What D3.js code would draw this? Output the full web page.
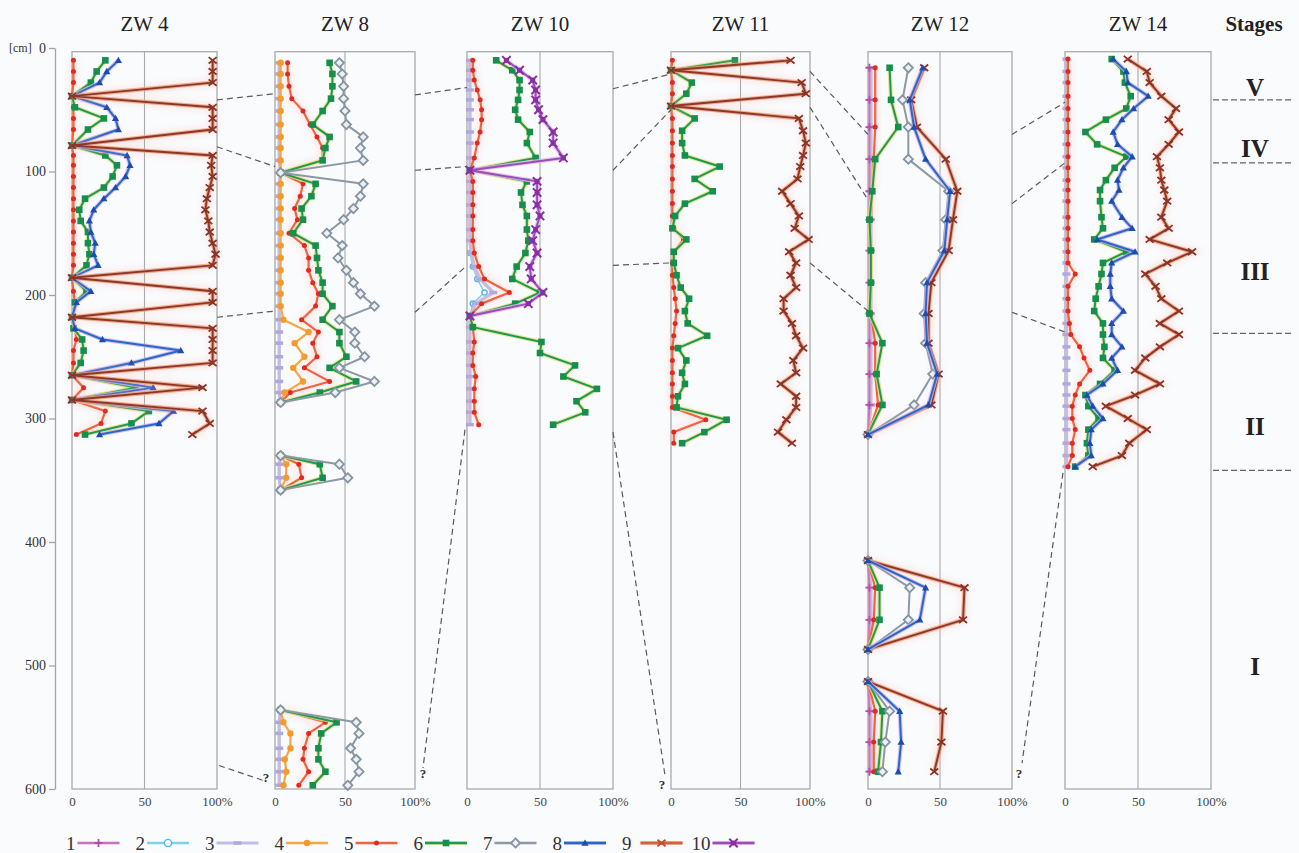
<!DOCTYPE html>
<html><head><meta charset="utf-8">
<script src="https://cdn.jsdelivr.net/npm/d3@7"></script>
<style>
body{margin:0;background:#fafbfd;}
svg{display:block;font-family:"Liberation Serif","Times New Roman",serif;}
</style></head><body>
<svg id="chart" width="1299" height="853"></svg>
<script>
// ---- labels and ticks ----
const panelNames = ["ZW 4", "ZW 8", "ZW 10", "ZW 11", "ZW 12", "ZW 14"];
const depthTicks = [0, 100, 200, 300, 400, 500, 600];
const pctTicks = [0, 50, 100];
const legendKeys = [1, 2, 3, 4, 5, 6, 7, 8, 9, 10];
const stageNames = ["V", "IV", "III", "II", "I"];
const stageLabelDepth = [32, 81, 181, 306, 501];
const stageBounds = [42, 93, 231, 342];

// ---- ZW 4 (depth in cm, values in %) ----
const zw4Depth = [10,19,28,39,48,57,66,79,87,95,104,113,122,131,140,149,158,167,176,186,197,206,218,227,236,245,255,265,275,285,294,304,313];
const zw4Red   = [1,1,1,0,1,1,1,0,1,1,1,1,1,1,1,1,1,1,1,0,1,2,0,2,3,1,1,0,8,0,23,20,3];
const zw4Green = [23,17,13,0,2,22,11,0,23,31,28,22,9,5,6,11,11,12,10,0,10,2,0,1,7,8,6,0,44,0,53,41,9];
const zw4Blue  = [32,24,19,0,24,30,32,0,38,40,37,30,22,15,12,13,16,15,18,0,13,3,0,2,21,75,41,0,56,0,70,60,19];
const zw4Brown = [97,97,97,0,97,97,97,0,97,96,97,95,93,92,94,95,97,99,97,0,97,97,0,97,97,97,97,0,90,0,90,95,83];

// ---- ZW 8 (null rows separate the three sampled intervals) ----
const zw8Depth  = [12,21,31,41,51,62,72,81,91,101,110,120,130,139,150,160,170,180,190,199,209,220,230,239,250,259,270,279,287, 310, 330,337,348,358, 450, 536,546,555,567,576,586,597];
const zw8Gray   = [46,48,49,49,50,51,63,61,63,4,63,61,56,49,37,48,45,51,56,61,71,46,57,57,64,46,71,43,4, null, 4,46,52,4, null, 4,58,60,54,58,60,52];
const zw8Green  = [39,41,41,40,34,27,39,36,34,4,29,26,19,20,13,29,30,31,34,34,41,34,46,46,51,39,58,32,4, null, 4,32,34,4, null, 4,44,33,31,31,36,27];
const zw8Red    = [9,9,10,12,20,25,30,34,34,4,20,18,14,16,10,21,24,24,27,31,29,19,31,27,30,21,39,11,4, null, 4,17,19,4, null, 4,36,24,21,20,24,17];
const zw8Orange = [4,4,4,4,4,4,4,4,4,4,4,4,4,4,4,4,4,4,4,4,4,6,24,14,21,13,20,7,4, null, 4,8,8,4, null, 4,6,11,11,7,8,6];
const zw8Lav    = [3,3,3,3,3,3,3,3,3,4,3,3,3,3,3,3,3,3,3,3,3,3,3,3,3,3,3,3,4, null, 4,3,3,4, null, 4,3,3,3,3,3,3];

// ---- ZW 10 ----
const zw10Depth  = [10,18,26,34,42,50,58,68,77,89,99, 108,117,127,136,147,156,166,177,187,198,207,217, 226,238,247,257,266,276,286,295,305];
const zw10Purple = [27,36,45,47,47,49,52,59,59,66,2, 48,48,48,50,47,45,48,43,44,52,42,2, null,null,null,null,null,null,null,null,null];
const zw10Green  = [20,31,36,36,35,33,35,43,41,47,2, 41,37,38,41,41,42,40,34,31,50,33,2, 4,51,50,74,66,89,75,81,59];
const zw10Red    = [4,4,5,7,9,10,10,9,7,5,2, 4,4,4,4,4,4,5,8,12,29,10,2, 4,5,4,4,6,5,5,5,8];
const zw10Lav    = [2,2,2,2,2,2,2,2,2,2,2, 2,2,2,2,2,2,3,5,9,18,6,2, 2,2,2,2,2,2,2,2,2];
const zw10LBlue  = [null,null,null,null,null,null,null,null,null,null,null, null,null,null,null,null,null,2,4,7,12,4,2, null,null,null,null,null,null,null,null,null];

// ---- ZW 11 ----
const zw11Depth = [10,18,28,37,47,57,67,77,87,96,106,116,126,136,146,155,165,174,184,194,203,213,223,233,243,253,263,272,282,291,301,311,320];
const zw11Green = [46,0,15,11,0,17,8,8,10,35,17,30,10,3,1,11,2,2,4,7,13,10,12,26,5,11,8,10,5,4,40,24,8];
const zw11Brown = [86,0,94,97,0,92,95,97,95,93,91,80,86,92,89,99,85,90,86,90,81,81,87,90,95,88,90,79,90,90,83,77,87];
const zw11Red   = [1,0,1,1,0,1,1,1,1,1,1,1,1,1,2,9,2,1,1,2,3,4,3,2,1,1,1,1,1,1,25,2,2];

// ---- ZW 12 ----
const zw12Depth = [16,42,64,90,116,139,164,190,215,239,264,289,313, 360, 415,437,463,487, 500, 513,537,562,586];
const zw12Brown = [39,30,34,54,62,59,56,44,42,42,49,44,0, null, 0,67,66,0, null, 0,52,51,46];
const zw12Blue  = [38,29,32,40,57,55,53,41,40,41,48,42,0, null, 0,40,36,0, null, 0,22,23,21];
const zw12Gray  = [28,24,28,28,56,54,52,40,39,40,45,32,0, null, 0,29,28,0, null, 0,15,12,10];
const zw12Green = [15,16,21,5,3,1,2,2,1,10,6,10,0, null, 0,8,8,0, null, 0,10,9,7];
const zw12Red   = [5,5,5,4,3,2,2,2,2,5,5,7,0, null, 0,5,4,0, null, 0,5,4,4];
const zw12Lav   = [2,2,2,2,2,2,2,2,2,2,2,2,0, null, 0,2,2,0, null, 0,2,2,2];
const zw12Pink  = [1,1,1,1,1,1,1,1,1,1,1,1,0, null, 0,1,1,0, null, 0,1,1,1];

// ---- ZW 14 ----
const zw14Depth = [9,19,28,39,49,58,68,78,88,97,107,115,124,137,146,155,165,174,183,193,203,213,223,232,242,251,261,272,281,290,300,309,320,330,339];
const zw14Brown = [43,56,58,66,76,71,78,71,63,65,66,68,70,66,71,58,87,70,55,62,66,78,65,78,65,55,48,65,48,28,43,56,44,39,19];
const zw14Blue  = [33,42,43,57,47,39,33,36,46,40,36,37,32,39,46,22,48,32,31,31,32,40,32,32,39,32,36,26,15,19,26,18,17,18,7];
const zw14Green = [32,40,41,45,42,28,14,22,42,34,28,24,24,25,26,20,42,26,25,23,21,20,26,26,27,26,34,24,14,16,23,16,15,16,7];
const zw14Red   = [2,2,2,2,2,2,2,2,2,2,2,2,2,2,2,2,2,2,7,2,2,2,3,4,10,13,17,10,7,5,5,7,5,5,2];
const zw14Lav   = [1,1,1,1,1,1,1,1,1,1,1,1,1,1,1,1,1,1,1,1,1,1,1,1,1,1,1,1,1,1,1,1,1,1,1];

// ---- correlation lines between neighbouring profiles: [depth on left profile, depth on right profile] ----
const links48   = [[42,37],[80,96],[218,213]];
const links810  = [[38,32],[99,96],[214,176]];
const links1011 = [[33,21],[99,50],[176,174]];
const links1112 = [[19,70],[48,123],[174,213]];
const links1214 = [[70,44],[126,93],[214,230]];

// ---- styles ----
const styles = {
  1:  {color:"#c86fc0", width:2,   marker:"plus",    mColor:"#b04aa8", size:4},
  2:  {color:"#7fd0f0", width:1.5, marker:"ring",    mColor:"#4cbae8", size:2.6},
  3:  {color:"#c2bde6", width:3.4, marker:"dash",    mColor:"#aea8de", size:4},
  4:  {color:"#f7a642", width:2.2, marker:"dot",     mColor:"#f59a2a", size:3.2},
  5:  {color:"#f2623f", width:2.2, marker:"dot",     mColor:"#e3291e", size:2.5},
  6:  {color:"#1f9a55", width:2,   glow:"#e4e07c",   marker:"square",  mColor:"#178f4c", size:3.3},
  7:  {color:"#8b99a6", width:2,   marker:"diamond", mColor:"#8494a2", size:4.6},
  8:  {color:"#2a68c8", width:2,   glow:"#c9b0ea",   marker:"triangle",mColor:"#1c4cae", size:3.6},
  9:  {color:"#8a382b", width:1.9, glow:"#f39a74",   marker:"x",       mColor:"#8a3326", size:4},
  10: {color:"#9a4dba", width:2,   glow:"#e3b8ec",   marker:"xstar",   mColor:"#8a2ea6", size:4.2}
};

const W = 1299, H = 853;
const svg = d3.select("#chart");
svg.append("rect").attr("width", W).attr("height", H).attr("fill", "#fafbfd");

const y = d3.scaleLinear().domain([0, 600]).range([48, 789]);

const panels = [
  {name: panelNames[0], range: [72, 217],   depth: zw4Depth,  series: [[5, zw4Red], [6, zw4Green], [8, zw4Blue], [9, zw4Brown]]},
  {name: panelNames[1], range: [275, 415],  depth: zw8Depth,  series: [[3, zw8Lav], [4, zw8Orange], [5, zw8Red], [6, zw8Green], [7, zw8Gray]]},
  {name: panelNames[2], range: [467, 613],  depth: zw10Depth, series: [[2, zw10LBlue], [3, zw10Lav], [5, zw10Red], [6, zw10Green], [10, zw10Purple]]},
  {name: panelNames[3], range: [671, 810],  depth: zw11Depth, series: [[5, zw11Red], [6, zw11Green], [9, zw11Brown]]},
  {name: panelNames[4], range: [868, 1012], depth: zw12Depth, series: [[3, zw12Lav], [1, zw12Pink], [5, zw12Red], [6, zw12Green], [7, zw12Gray], [9, zw12Brown], [8, zw12Blue]]},
  {name: panelNames[5], range: [1065, 1211],depth: zw14Depth, series: [[3, zw14Lav], [5, zw14Red], [6, zw14Green], [8, zw14Blue], [9, zw14Brown]]}
];
panels.forEach(p => { p.x = d3.scaleLinear().domain([0, 100]).range(p.range); });

const defs = svg.append("defs");
defs.append("filter").attr("id", "haze").attr("x", "-20%").attr("y", "-5%").attr("width", "140%").attr("height", "110%")
  .append("feGaussianBlur").attr("stdDeviation", 3);

function markerPath(type, s) {
  switch (type) {
    case "plus": return `M${-s},0H${s}M0,${-s}V${s}`;
    case "dash": return `M${-s},0H${s}`;
    case "square": return `M${-s},${-s}H${s}V${s}H${-s}Z`;
    case "diamond": return `M0,${-s}L${s},0L0,${s}L${-s},0Z`;
    case "triangle": return `M0,${-s}L${s},${s*0.75}L${-s},${s*0.75}Z`;
    case "x": return `M${-s},${-s*0.8}L${s},${s*0.8}M${-s},${s*0.8}L${s},${-s*0.8}`;
    case "xstar": return `M${-s},${-s}L${s},${s}M${-s},${s}L${s},${-s}M-1.6,-1.6H1.6V1.6H-1.6Z`;
    default: return null;
  }
}

function drawMarker(g, type, s, color) {
  if (type === "dot") {
    g.append("circle").attr("r", s).attr("fill", color);
  } else if (type === "ring") {
    g.append("circle").attr("r", s).attr("fill", "#fafbfd").attr("stroke", color).attr("stroke-width", 1.4);
  } else if (type === "square" || type === "triangle") {
    g.append("path").attr("d", markerPath(type, s)).attr("fill", color);
  } else if (type === "diamond") {
    g.append("path").attr("d", markerPath(type, s)).attr("fill", "#eef1f4").attr("stroke", color).attr("stroke-width", 1.8);
  } else if (type === "dash") {
    g.append("path").attr("d", markerPath(type, s)).attr("stroke", color).attr("stroke-width", 3.5);
  } else if (type === "xstar") {
    g.append("path").attr("d", markerPath(type, s)).attr("stroke", color).attr("stroke-width", 2).attr("fill", color);
  } else {
    g.append("path").attr("d", markerPath(type, s)).attr("stroke", color).attr("stroke-width", 1.8).attr("fill", "none");
  }
}

// ---- depth axis ----
const yAxis = d3.axisLeft(y).tickValues(depthTicks).tickSizeInner(6).tickSizeOuter(0).tickPadding(3);
const ya = svg.append("g").attr("transform", "translate(55,0)").call(yAxis);
ya.select(".domain").attr("stroke", "#a4a4a4").attr("stroke-width", 1.3);
ya.selectAll(".tick line").attr("stroke", "#a4a4a4").attr("stroke-width", 1.3);
ya.selectAll(".tick text").attr("font-size", 14).attr("fill", "#333").attr("font-family", "Liberation Serif");
svg.append("text").attr("x", 9).attr("y", y(0) + 4).attr("font-size", 12).attr("fill", "#333").text("[cm]");

// ---- profiles ----
panels.forEach(p => {
  const g = svg.append("g");
  const x = p.x;
  // frame and 50 % guide
  g.append("rect").attr("x", x(0)).attr("y", y(3)).attr("width", x(100) - x(0)).attr("height", y(600) - y(3))
    .attr("fill", "none").attr("stroke", "#a9a9a9").attr("stroke-width", 1.3);
  g.append("line").attr("x1", x(50)).attr("x2", x(50)).attr("y1", y(3)).attr("y2", y(600))
    .attr("stroke", "#a9a9a9").attr("stroke-width", 1.1);
  // title
  svg.append("text").attr("x", x(50)).attr("y", 31).attr("text-anchor", "middle").attr("font-size", 21)
    .attr("fill", "#222").text(p.name);
  // percent axis
  const xa = svg.append("g").attr("transform", `translate(0,${y(600)})`)
    .call(d3.axisBottom(x).tickValues(pctTicks).tickSize(0).tickPadding(8).tickFormat(v => v === 100 ? "100%" : String(v)));
  xa.select(".domain").remove();
  xa.selectAll("text").attr("font-size", 13).attr("fill", "#444").attr("font-family", "Liberation Serif");

  p.series.forEach(([key, vals]) => {
    const st = styles[key];
    const pts = p.depth.map((d, i) => ({d, v: vals[i]}));
    const line = d3.line().defined(q => q.v != null).x(q => x(q.v)).y(q => y(q.d));
    if (key === 9 || key === 5) {
      g.append("path").attr("d", line(pts)).attr("fill", "none").attr("stroke", "#f6b4a6")
        .attr("stroke-width", 9).attr("opacity", 0.22).attr("filter", "url(#haze)");
    }
    if (st.glow) {
      g.append("path").attr("d", line(pts)).attr("fill", "none").attr("stroke", st.glow)
        .attr("stroke-width", st.width + 2.2).attr("stroke-linejoin", "round").attr("opacity", 0.8);
    }
    g.append("path").attr("d", line(pts)).attr("fill", "none").attr("stroke", st.color)
      .attr("stroke-width", st.width).attr("stroke-linejoin", "round");
    pts.filter(q => q.v != null).forEach(q => {
      const mg = g.append("g").attr("transform", `translate(${x(q.v)},${y(q.d)})`);
      drawMarker(mg, st.marker, st.size, st.mColor);
    });
  });
});

// ---- correlation lines ----
const dashed = sel => sel.attr("stroke", "#5a5a5a").attr("stroke-width", 1.2).attr("stroke-dasharray", "6,4").attr("fill", "none");
[[0, 1, links48], [1, 2, links810], [2, 3, links1011], [3, 4, links1112], [4, 5, links1214]].forEach(([a, b, links]) => {
  links.forEach(([dl, dr]) => {
    svg.append("line").call(dashed)
      .attr("x1", panels[a].x(100)).attr("y1", y(dl))
      .attr("x2", panels[b].x(0)).attr("y2", y(dr));
  });
});

// uncertain continuations ending in "?"
const openEnds = [
  {from: [panels[0].x(100) + 2, 581], to: [panels[1].x(0) - 12, 593], q: [panels[1].x(0) - 9, 594]},
  {from: [panels[2].x(0) - 2, 309],   to: [panels[1].x(100) + 8, 583], q: [panels[1].x(100) + 8, 591]},
  {from: [panels[2].x(100), 311],     to: [panels[3].x(0) - 6, 589],  q: [panels[3].x(0) - 9, 600]},
  {from: [panels[5].x(0) - 2, 344],   to: [panels[4].x(100) + 10, 579], q: [panels[4].x(100) + 7, 591]}
];
openEnds.forEach(o => {
  svg.append("line").call(dashed)
    .attr("x1", o.from[0]).attr("y1", y(o.from[1])).attr("x2", o.to[0]).attr("y2", y(o.to[1]));
  svg.append("text").attr("x", o.q[0]).attr("y", y(o.q[1])).attr("text-anchor", "middle")
    .attr("font-size", 13).attr("font-weight", "bold").attr("fill", "#333").text("?");
});

// ---- stages ----
svg.append("text").attr("x", 1254).attr("y", 31).attr("text-anchor", "middle").attr("font-size", 21)
  .attr("font-weight", "bold").attr("fill", "#222").text("Stages");
stageBounds.forEach(d => {
  svg.append("line").attr("x1", 1213).attr("x2", 1292).attr("y1", y(d)).attr("y2", y(d))
    .attr("stroke", "#666").attr("stroke-width", 1.3).attr("stroke-dasharray", "6,3");
});
stageNames.forEach((s, i) => {
  svg.append("text").attr("x", 1255).attr("y", y(stageLabelDepth[i])).attr("dy", "0.35em")
    .attr("text-anchor", "middle").attr("font-size", 25).attr("font-weight", "bold").attr("fill", "#222").text(s);
});

// ---- legend ----
const lg = svg.append("g").attr("transform", "translate(0,843)");
legendKeys.forEach((k, i) => {
  const st = styles[k];
  const lx = 66 + i * 69.5;
  const t = lg.append("text").attr("x", lx).attr("y", 0).attr("dy", "0.35em").attr("font-size", 19)
    .attr("fill", "#333").text(String(k));
  const tw = t.node().getComputedTextLength();
  const x1 = lx + tw + (k === 9 ? 9 : 2), x2 = x1 + 42;
  if (st.glow) lg.append("line").attr("x1", x1).attr("x2", x2).attr("stroke", st.glow).attr("stroke-width", st.width + 2).attr("opacity", 0.7);
  lg.append("line").attr("x1", x1).attr("x2", x2).attr("stroke", k === 9 ? "#d0623e" : st.color)
    .attr("stroke-width", k === 3 ? 3 : 2.4);
  const mg = lg.append("g").attr("transform", `translate(${(x1 + x2) / 2},0)`);
  drawMarker(mg, st.marker, st.size + (k === 2 ? 1 : 0), k === 9 ? "#c04a30" : st.mColor);
});
</script></body></html>
